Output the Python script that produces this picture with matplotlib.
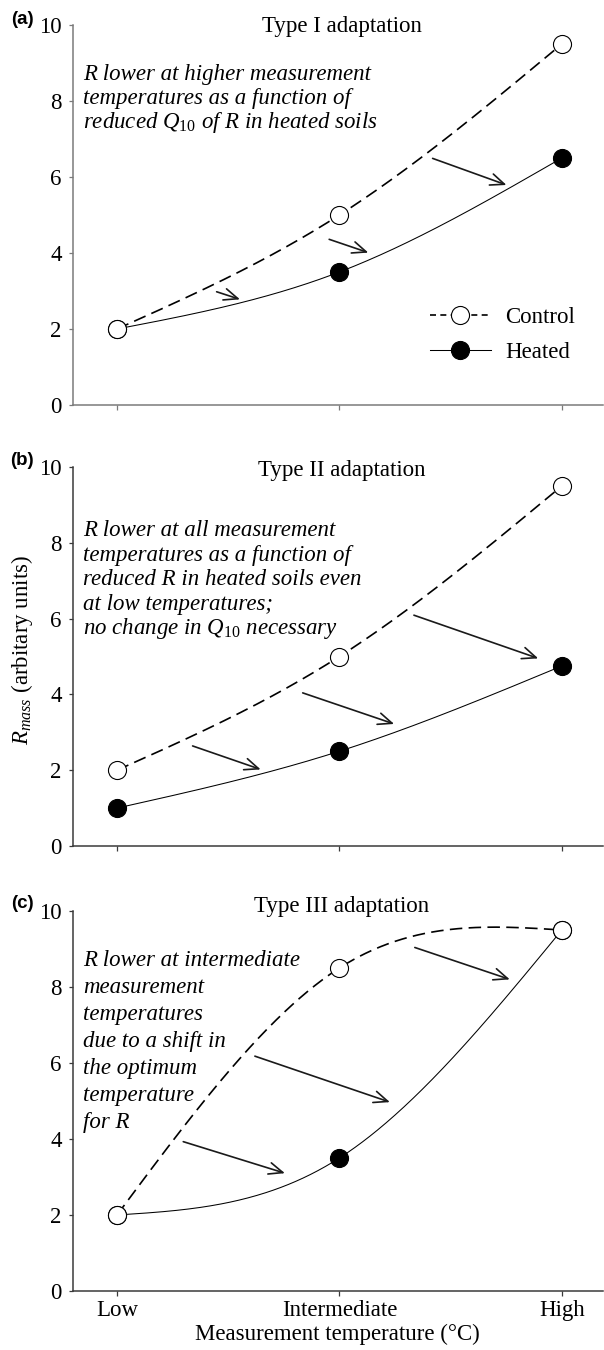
import numpy as np
import matplotlib
matplotlib.use('Agg')
import matplotlib.pyplot as plt
from matplotlib.lines import Line2D

plt.rcParams['font.family'] = ['Liberation Serif', 'DejaVu Serif']
plt.rcParams['mathtext.fontset'] = 'custom'
plt.rcParams['mathtext.rm'] = 'Liberation Serif'
plt.rcParams['mathtext.it'] = 'Liberation Serif:italic'
plt.rcParams['mathtext.default'] = 'it'

# ---------------- data ----------------
temps = [0, 1, 2]
temp_labels = ['Low', 'Intermediate', 'High']
y_ticks = [0, 2, 4, 6, 8, 10]

control_a = [2.0, 5.0, 9.5]
heated_a = [2.0, 3.5, 6.5]
control_b = [2.0, 5.0, 9.5]
heated_b = [1.0, 2.5, 4.75]
control_c = [2.0, 8.5, 9.5]
heated_c = [2.0, 3.5, 9.5]

titles = ['Type I adaptation', 'Type II adaptation', 'Type III adaptation']
panel_letters = ['(a)', '(b)', '(c)']

text_a = ['R lower at higher measurement',
          'temperatures as a function of',
          r'reduced $Q_{\mathit{10}}$ of R in heated soils']
text_b = ['R lower at all measurement',
          'temperatures as a function of',
          'reduced R in heated soils even',
          'at low temperatures;',
          r'no change in $Q_{\mathit{10}}$ necessary']
text_c = ['R lower at intermediate',
          'measurement',
          'temperatures',
          'due to a shift in',
          'the optimum',
          'temperature',
          'for R']

# arrows (tail -> head) in data coordinates
arrows_a = [((0.448, 2.98), (0.553, 2.78)),
            ((0.954, 4.36), (1.130, 4.01)),
            ((1.419, 6.49), (1.751, 5.79))]
arrows_b = [((0.340, 2.64), (0.646, 2.02)),
            ((0.835, 4.04), (1.246, 3.22)),
            ((1.335, 6.09), (1.894, 4.95))]
arrows_c = [((0.298, 3.93), (0.755, 3.10)),
            ((0.620, 6.18), (1.227, 4.97)),
            ((1.339, 9.04), (1.766, 8.20))]


def natural_spline(x, y, xs):
    x = np.asarray(x, float)
    y = np.asarray(y, float)
    n = len(x)
    h = np.diff(x)
    A = np.zeros((n, n))
    r = np.zeros(n)
    A[0, 0] = 1
    A[-1, -1] = 1
    for i in range(1, n - 1):
        A[i, i - 1] = h[i - 1]
        A[i, i] = 2 * (h[i - 1] + h[i])
        A[i, i + 1] = h[i]
        r[i] = 6 * ((y[i + 1] - y[i]) / h[i] - (y[i] - y[i - 1]) / h[i - 1])
    M = np.linalg.solve(A, r)
    out = np.empty_like(xs)
    for k, xv in enumerate(xs):
        i = min(max(np.searchsorted(x, xv) - 1, 0), n - 2)
        t1 = x[i + 1] - xv
        t0 = xv - x[i]
        out[k] = (M[i] * t1 ** 3 + M[i + 1] * t0 ** 3) / (6 * h[i]) \
            + (y[i] / h[i] - M[i] * h[i] / 6) * t1 \
            + (y[i + 1] / h[i] - M[i + 1] * h[i] / 6) * t0
    return out


W, H = 604.0, 1350.0
fig = plt.figure(figsize=(W / 100, H / 100), dpi=100)

FS = 16.5
LEFT, RIGHT = 72.5, 603.0
panels = [
    dict(top=25, bottom=405, ctrl=control_a, heat=heated_a, text=text_a,
         arrows=arrows_a, text_base=80, text_step=24, title_base=32,
         spine='#7a7a7a', letter_y=20),
    dict(top=467, bottom=846, ctrl=control_b, heat=heated_b, text=text_b,
         arrows=arrows_b, text_base=536, text_step=24.5, title_base=476,
         spine='#3a3a3a', letter_y=460),
    dict(top=911, bottom=1291, ctrl=control_c, heat=heated_c, text=text_c,
         arrows=arrows_c, text_base=966, text_step=27, title_base=912,
         spine='#3a3a3a', letter_y=904),
]

xs = np.linspace(temps[0], temps[-1], 300)
axes = []
for k, p in enumerate(panels):
    ax = fig.add_axes([LEFT / W, 1 - p['bottom'] / H,
                       (RIGHT - LEFT) / W, (p['bottom'] - p['top']) / H])
    axes.append(ax)
    ax.set_xlim(-0.2, 2.185)
    ax.set_ylim(0, 10)
    for s in ['top', 'right']:
        ax.spines[s].set_visible(False)
    for s in ['left', 'bottom']:
        ax.spines[s].set_color(p['spine'])
        ax.spines[s].set_linewidth(1.1)
    ax.set_yticks(y_ticks)
    ax.set_xticks(temps)
    ax.tick_params(axis='y', direction='out', length=3.2, width=0.9,
                   color=p['spine'], labelsize=FS, pad=4.5)
    ax.tick_params(axis='x', direction='out', length=3.6, width=0.9,
                   color=p['spine'], labelsize=FS, pad=3)
    if k == 2:
        ax.set_xticklabels(temp_labels)
        ax.set_xlabel('Measurement temperature (°C)', fontsize=FS, labelpad=2)
    else:
        ax.set_xticklabels([])

    # curves
    ax.plot(xs, natural_spline(temps, p['heat'], xs), color='black',
            lw=0.75, zorder=2, solid_capstyle='butt')
    ax.plot(xs, natural_spline(temps, p['ctrl'], xs), color='black',
            lw=1.2, ls=(0, (7.5, 3.8)), zorder=2, dash_capstyle='butt')
    ax.plot(temps, p['heat'], ls='none', marker='o', ms=13,
            mfc='black', mec='black', mew=0.8, zorder=3, clip_on=False)
    ax.plot(temps, p['ctrl'], ls='none', marker='o', ms=13,
            mfc='white', mec='black', mew=0.8, zorder=4, clip_on=False)

    # arrows
    for tail, head in p['arrows']:
        ax.annotate('', xy=head, xytext=tail, xycoords='data',
                    arrowprops=dict(arrowstyle='->,head_length=1.0,head_width=0.42',
                                    lw=1.2, color='#1a1a1a', shrinkA=0, shrinkB=0,
                                    mutation_scale=10), zorder=5)

    # title
    tb = (p['bottom'] - p['title_base']) / (p['bottom'] - p['top'])
    ax.text(1.01, tb * 10, titles[k], ha='center', va='baseline', fontsize=FS)

    # explanatory italic text
    base_frac = (p['bottom'] - p['text_base']) / (p['bottom'] - p['top'])
    x_frac = (83 - LEFT) / (RIGHT - LEFT)
    for i, line in enumerate(p['text']):
        ax.annotate(line, xy=(x_frac, base_frac), xycoords='axes fraction',
                    xytext=(0, -i * p['text_step'] * 0.72),
                    textcoords='offset points', ha='left', va='baseline',
                    fontsize=FS, style='italic')

    # panel letter
    fig.text(22 / W, 1 - p['letter_y'] / H, panel_letters[k],
             family=['Liberation Sans', 'DejaVu Sans'], weight='bold',
             fontsize=13.5, ha='center', va='center')

# legend in panel (a)
handles = [Line2D([], [], color='black', lw=1.2, ls=(0, (3.6, 2.6)), marker='o',
                  ms=13, mfc='white', mec='black', mew=0.8),
           Line2D([], [], color='black', lw=0.75, marker='o', ms=13,
                  mfc='black', mec='black', mew=0.8)]
axes[0].legend(handles, ['Control', 'Heated'], loc='center left',
               bbox_to_anchor=(0.673, 0.185), frameon=False, fontsize=FS,
               handlelength=2.7, handletextpad=0.6, labelspacing=0.6,
               borderpad=0, borderaxespad=0)

# y label
ylab_y = 1 - 650 / H
fig.text(22 / W, ylab_y, r'$R_{mass}$ (arbitary units)', rotation=90,
         ha='center', va='center', fontsize=FS)

fig.savefig('out.png', dpi=100)
